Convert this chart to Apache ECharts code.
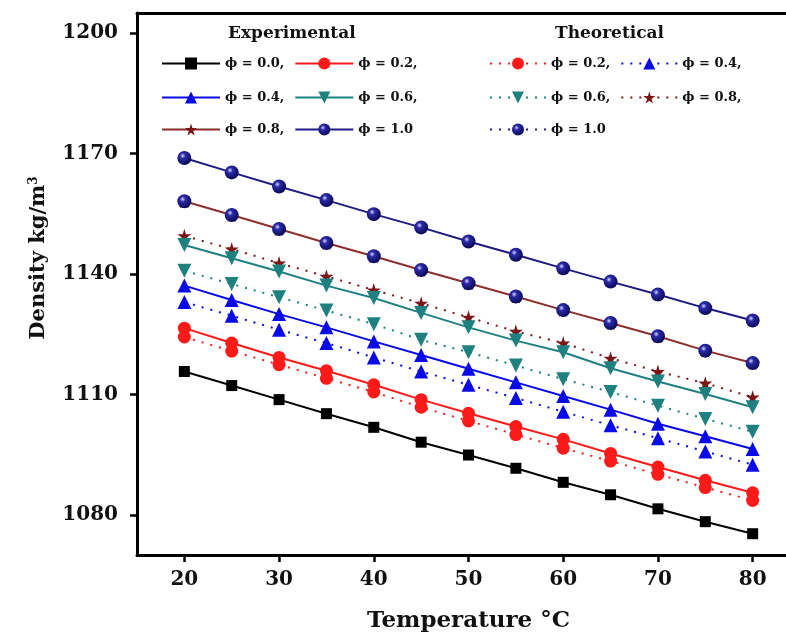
<!DOCTYPE html>
<html>
<head>
<meta charset="utf-8">
<script src="https://cdn.jsdelivr.net/npm/echarts@6/dist/echarts.min.js"></script>
<style>
  html, body { margin: 0; padding: 0; background: #fff; }
  #chart { width: 786px; height: 637px; }
</style>
</head>
<body>
<div id="chart"></div>
<script>
// temperature (°C) and density readings (kg/m3)
const temps = [20, 25, 30, 35, 40, 45, 50, 55, 60, 65, 70, 75, 80];

const expPhi00 = [1115.7, 1112.2, 1108.7, 1105.2, 1101.8, 1098.1, 1094.9, 1091.6, 1088.1, 1085.0, 1081.5, 1078.3, 1075.3];
const expPhi02 = [1126.5, 1122.8, 1119.2, 1115.9, 1112.4, 1108.7, 1105.3, 1102.0, 1098.8, 1095.3, 1091.9, 1088.6, 1085.5];
const expPhi04 = [1137.1, 1133.5, 1130.0, 1126.7, 1123.2, 1119.8, 1116.4, 1113.0, 1109.6, 1106.2, 1102.7, 1099.6, 1096.4];
const expPhi06 = [1147.2, 1143.9, 1140.6, 1137.1, 1134.0, 1130.3, 1126.7, 1123.4, 1120.5, 1116.5, 1113.2, 1110.1, 1106.8];
const expPhi08 = [1158.1, 1154.7, 1151.2, 1147.7, 1144.4, 1141.0, 1137.7, 1134.4, 1131.0, 1127.8, 1124.5, 1120.9, 1117.8];
const expPhi10 = [1168.9, 1165.3, 1161.8, 1158.4, 1154.9, 1151.6, 1148.1, 1144.8, 1141.4, 1138.1, 1134.9, 1131.5, 1128.4];

const thPhi02 = [1124.3, 1120.8, 1117.4, 1114.0, 1110.6, 1106.8, 1103.4, 1100.0, 1096.6, 1093.4, 1090.1, 1086.8, 1083.6];
const thPhi04 = [1133.0, 1129.6, 1126.1, 1122.8, 1119.2, 1115.7, 1112.4, 1109.1, 1105.7, 1102.3, 1099.1, 1095.8, 1092.5];
const thPhi06 = [1140.8, 1137.5, 1134.2, 1130.9, 1127.5, 1123.6, 1120.5, 1117.2, 1113.8, 1110.6, 1107.2, 1103.9, 1100.7];
const thPhi08 = [1149.5, 1146.2, 1142.7, 1139.4, 1136.0, 1132.7, 1129.2, 1125.7, 1122.8, 1119.0, 1115.7, 1112.8, 1109.3];
const thPhi10 = [1158.1, 1154.7, 1151.2, 1147.7, 1144.4, 1141.0, 1137.7, 1134.4, 1131.0, 1127.8, 1124.5, 1120.9, 1117.8];

const xTicks = [20, 30, 40, 50, 60, 70, 80];
const yTicks = [1080, 1110, 1140, 1170, 1200];

const labels = {
  e00: 'ϕ = 0.0,', e02: 'ϕ = 0.2,', e04: 'ϕ = 0.4,', e06: 'ϕ = 0.6,', e08: 'ϕ = 0.8,', e10: 'ϕ = 1.0',
  t02: 'ϕ = 0.2,', t04: 'ϕ = 0.4,', t06: 'ϕ = 0.6,', t08: 'ϕ = 0.8,', t10: 'ϕ = 1.0'
};

const FONT = '"DejaVu Serif", "Liberation Serif", serif';
const STAR = 'path://M50,0 L61,35 L98,35 L68,57 L79,91 L50,70 L21,91 L32,57 L2,35 L39,35 Z';
const ball = {
  type: 'radial', x: 0.38, y: 0.35, r: 0.65,
  colorStops: [
    { offset: 0, color: '#d8d8ff' },
    { offset: 0.3, color: '#2a2aa8' },
    { offset: 1, color: '#0a0a55' }
  ]
};

function pairs(vals) {
  return temps.map((t, i) => [t, vals[i]]);
}

function line(name, vals, color, symbol, size, opts) {
  opts = opts || {};
  return {
    name: name,
    type: 'line',
    data: pairs(vals),
    symbol: symbol,
    symbolSize: size,
    symbolRotate: opts.rotate || 0,
    showAllSymbol: true,
    animation: false,
    lineStyle: {
      color: opts.lineColor || color,
      width: 2,
      type: opts.dotted ? [2, 7] : 'solid',
      opacity: opts.lineOpacity == null ? 1 : opts.lineOpacity
    },
    itemStyle: { color: opts.fill || color, borderWidth: 0 }
  };
}

const series = [
  line('t02', thPhi02, '#ff1a1a', 'circle', 13, { dotted: true }),
  line('t04', thPhi04, '#0a0ae6', 'triangle', 14, { dotted: true }),
  line('t06', thPhi06, '#1f8080', 'triangle', 14, { dotted: true, rotate: 180 }),
  line('t08', thPhi08, '#7a1616', STAR, 14, { dotted: true }),
  line('e00', expPhi00, '#000000', 'rect', 11),
  line('e02', expPhi02, '#ff1a1a', 'circle', 13),
  line('e04', expPhi04, '#0a0ae6', 'triangle', 14),
  line('e06', expPhi06, '#1f8080', 'triangle', 14, { rotate: 180 }),
  line('e08', expPhi08, '#8b2e2e', STAR, 14, { fill: '#7a1616' }),
  line('e10', expPhi10, '#1c1c80', 'circle', 14, { fill: ball }),
  line('t10', thPhi10, '#1c1c80', 'circle', 14, { dotted: true, fill: ball, lineOpacity: 0 })
];

function legendRow(names, left, top, width) {
  return {
    data: names.map(n => n === 't10' ? { name: n, lineStyle: { opacity: 1 } } : n),
    left: left,
    top: top,
    orient: 'horizontal',
    itemWidth: width,
    itemHeight: 15,
    itemGap: 10,
    selectedMode: false,
    formatter: n => labels[n],
    textStyle: { fontFamily: FONT, fontWeight: 'bold', fontSize: 13, color: '#111' }
  };
}

const chart = echarts.init(document.getElementById('chart'));
chart.setOption({
  backgroundColor: '#fff',
  animation: false,
  grid: {
    left: 137, top: 13, right: -14, bottom: 82,
    outerBoundsMode: 'none',
    show: false
  },
  xAxis: [{
    type: 'value',
    min: 15, max: 85,
    name: 'Temperature °C',
    nameLocation: 'middle',
    nameGap: 55,
    nameTextStyle: { fontFamily: FONT, fontWeight: 'bold', fontSize: 23, color: '#111' },
    axisLine: { lineStyle: { color: '#000', width: 3 } },
    axisTick: { length: 7, lineStyle: { width: 2.5, color: '#000' }, customValues: xTicks },
    axisLabel: { margin: 15, fontFamily: FONT, fontWeight: 'bold', fontSize: 20, color: '#111', customValues: xTicks },
    splitLine: { show: false }
  }, {
    // top frame line only
    type: 'value',
    position: 'top',
    min: 15, max: 85,
    axisLine: { lineStyle: { color: '#000', width: 3 } },
    axisTick: { show: false },
    axisLabel: { show: false },
    splitLine: { show: false }
  }],
  yAxis: {
    type: 'value',
    min: 1070, max: 1205,
    name: '{n|Density kg/m}{s|3}',
    nameLocation: 'middle',
    nameGap: 88,
    nameTextStyle: {
      padding: [0, 0, 0, 52],
      rich: {
        n: { fontFamily: FONT, fontWeight: 'bold', fontSize: 21, color: '#111' },
        s: { fontFamily: FONT, fontWeight: 'bold', fontSize: 12, color: '#111', verticalAlign: 'top' }
      }
    },
    axisLine: { lineStyle: { color: '#000', width: 3 } },
    axisTick: { length: 7, lineStyle: { width: 2.5, color: '#000' }, customValues: yTicks },
    axisLabel: {
      margin: 19, fontFamily: FONT, fontWeight: 'bold', fontSize: 20, color: '#111',
      customValues: yTicks, formatter: v => String(v)
    },
    splitLine: { show: false }
  },
  graphic: [
    { type: 'text', left: 228, top: 25, style: { text: 'Experimental', font: 'bold 17px ' + FONT, fill: '#111' } },
    { type: 'text', left: 555, top: 25, style: { text: 'Theoretical', font: 'bold 17px ' + FONT, fill: '#111' } }
  ],
  legend: [
    legendRow(['e00', 'e02'], 156, 52, 58),
    legendRow(['e04', 'e06'], 156, 86, 58),
    legendRow(['e08', 'e10'], 156, 118, 58),
    legendRow(['t02', 't04'], 484, 52, 56),
    legendRow(['t06', 't08'], 484, 86, 56),
    legendRow(['t10'], 484, 118, 56)
  ],
  series: series
});
</script>
</body>
</html>
